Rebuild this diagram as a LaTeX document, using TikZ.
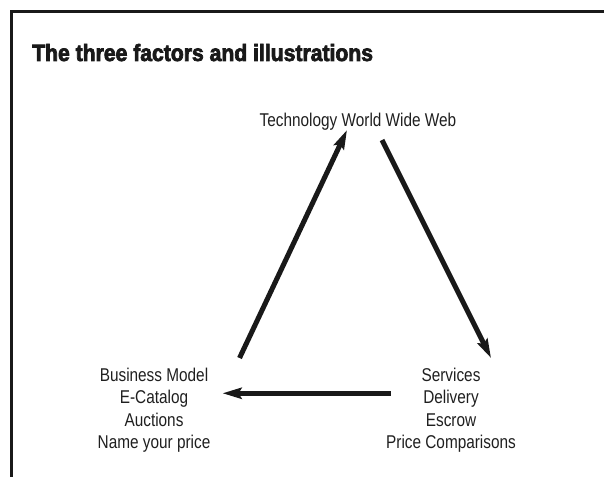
\documentclass[tikz,border=0pt]{standalone}
\usepackage{fontspec}
\setmainfont{Liberation Sans}[FakeStretch=0.83]
\newfontfamily\titlefont{Liberation Sans}[FakeStretch=0.9, BoldFeatures={FakeBold=3}]
\usetikzlibrary{arrows.meta, positioning}

\begin{document}
\begin{tikzpicture}[
    x=1pt, y=-1pt,
    label/.style={inner sep=0, align=center, text=black!88, font=\fontsize{18.5}{22.3}\selectfont},
    arrow/.style={-{Stealth[length=19pt, width=11pt, inset=3pt]}, line width=5pt, black!90},
    titlestyle/.style={inner sep=0, anchor=base west, text=black!90, font=\titlefont\bfseries\fontsize{23.5}{26}\selectfont}
]
\useasboundingbox (0,0) rectangle (604,476);

% Frame
\draw[line width=3pt, black!90] (11,480) |- (608,12);

% Title
\node[titlestyle] (title) at (32,61) {The three factors and illustrations};

% Factors
\node[label, anchor=base] (tech) at (358,126) {Technology World Wide Web};
\node[label, anchor=north] (biz) at (154,368) {Business Model\\E-Catalog\\Auctions\\Name your price};
\node[label, anchor=north] (serv) at (451,368) {Services\\Delivery\\Escrow\\Price Comparisons};

% Arrows
\draw[arrow] ([shift={(29,-10)}]biz.north east) -- ([xshift=-11]tech.south);
\draw[arrow] ([shift={(24,10)}]tech.south) -- ([shift={(40,-10)}]serv.north);
\draw[arrow] ([shift={(5,-17)}]serv.west) -- ([shift={(12,-17)}]biz.east);

\end{tikzpicture}
\end{document}
